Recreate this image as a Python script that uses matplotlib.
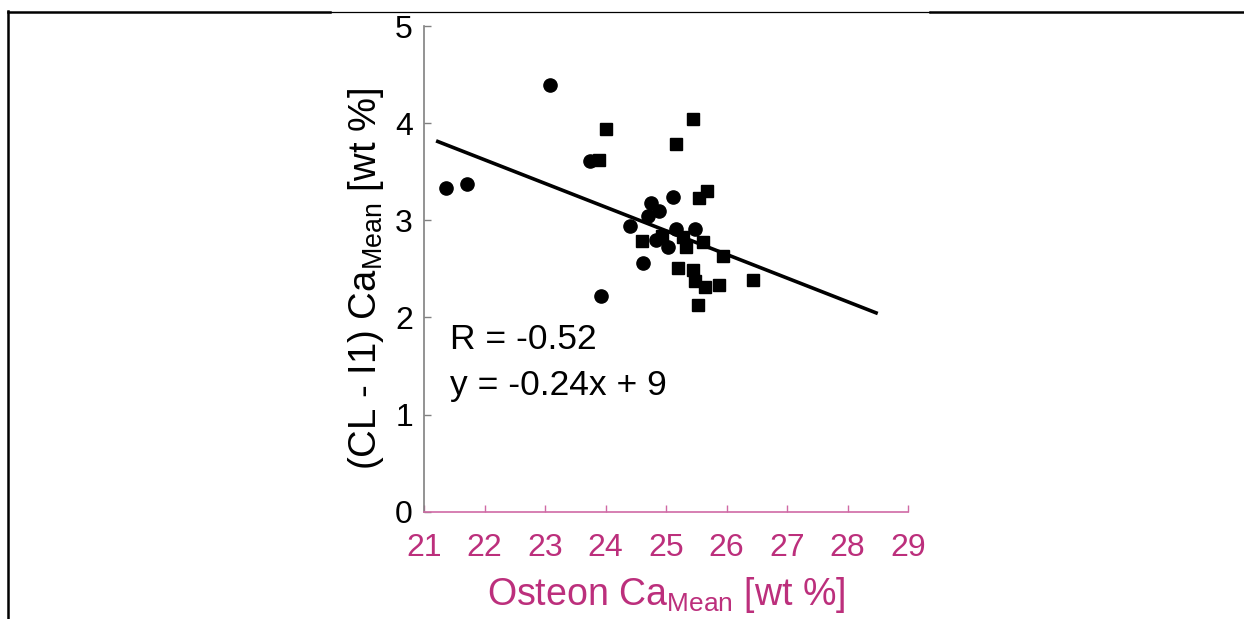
import matplotlib
matplotlib.use("Agg")
import matplotlib.pyplot as plt
from matplotlib.lines import Line2D

plt.rcParams['font.family'] = ['Liberation Sans', 'DejaVu Sans']
plt.rcParams['mathtext.default'] = 'regular'

# circles
circ_x = [21.36, 21.71, 23.09, 23.75, 23.92, 24.62, 24.41, 24.70, 24.75, 24.89,
          25.12, 25.16, 25.48, 24.84, 25.04]
circ_y = [3.33, 3.37, 4.39, 3.61, 2.22, 2.56, 2.94, 3.04, 3.18, 3.10,
          3.24, 2.91, 2.91, 2.80, 2.73]
# squares
sq_x = [24.00, 25.44, 25.17, 23.90, 25.68, 25.55, 24.61, 24.94, 25.28, 25.33,
        25.61, 25.94, 25.20, 25.44, 25.48, 25.65, 25.87, 26.43, 25.53]
sq_y = [3.94, 4.04, 3.79, 3.62, 3.30, 3.23, 2.79, 2.84, 2.83, 2.72,
        2.78, 2.63, 2.51, 2.49, 2.37, 2.31, 2.33, 2.39, 2.13]
# fit line
fit_slope = -0.2435
fit_icpt = 8.98
fit_x = [21.2, 28.5]
fit_y = [fit_slope * v + fit_icpt for v in fit_x]

xticks = [21, 22, 23, 24, 25, 26, 27, 28, 29]
yticks = [0, 1, 2, 3, 4, 5]

PINK = '#BC2F7C'
W, H = 1244, 619
fig = plt.figure(figsize=(W / 100, H / 100), dpi=100)
ax = fig.add_axes([424 / W, 1 - 511.7 / H, (908 - 424) / W, (511.7 - 26) / H])

ax.plot(fit_x, fit_y, color='black', lw=2.6, solid_capstyle='butt', zorder=2)
ax.plot(circ_x, circ_y, 'o', color='black', ms=9.5, mec='black', zorder=3)
ax.plot(sq_x, sq_y, 's', color='black', ms=8.0, mec='black', zorder=3)

ax.set_xlim(21, 29)
ax.set_ylim(0, 5)
ax.set_xticks(xticks)
ax.set_yticks(yticks)
ax.spines['top'].set_visible(False)
ax.spines['right'].set_visible(False)
ax.spines['left'].set_color('#808080')
ax.spines['left'].set_linewidth(1.2)
ax.spines['bottom'].set_color('#D06AA5')
ax.spines['bottom'].set_linewidth(1.2)
ax.tick_params(axis='y', direction='in', length=5, width=1, color='#808080',
               labelsize=23, labelcolor='black', pad=8)
ax.tick_params(axis='x', direction='in', length=5, width=1, color='#D06AA5',
               labelsize=23, labelcolor=PINK, pad=15)

ax.set_xlabel('Osteon Ca$_{Mean}$ [wt %]', fontsize=27, color=PINK, labelpad=9)
ax.set_ylabel('(CL - I1) Ca$_{Mean}$ [wt %]', fontsize=27.5, color='black')
ax.yaxis.set_label_coords(-0.079, 0.479)

ax.text(21.43, 1.77, 'R = -0.52', fontsize=25.5, color='black', va='center', ha='left')
ax.text(21.43, 1.30, 'y = -0.24x + 9', fontsize=25.5, color='black', va='center', ha='left')

# frame lines from the surrounding layout
fig.add_artist(Line2D([8 / W, 330 / W], [1 - 12 / H, 1 - 12 / H], color='black', lw=1.8,
                      transform=fig.transFigure))
fig.add_artist(Line2D([330 / W, 930 / W], [1 - 12 / H, 1 - 12 / H], color='black', lw=0.9,
                      transform=fig.transFigure))
fig.add_artist(Line2D([930 / W, 1.0], [1 - 12 / H, 1 - 12 / H], color='black', lw=1.8,
                      transform=fig.transFigure))
fig.add_artist(Line2D([8 / W, 8 / W], [1 - 11.3 / H, 0], color='black', lw=1.8,
                      transform=fig.transFigure))

fig.savefig('out.png', dpi=100)
